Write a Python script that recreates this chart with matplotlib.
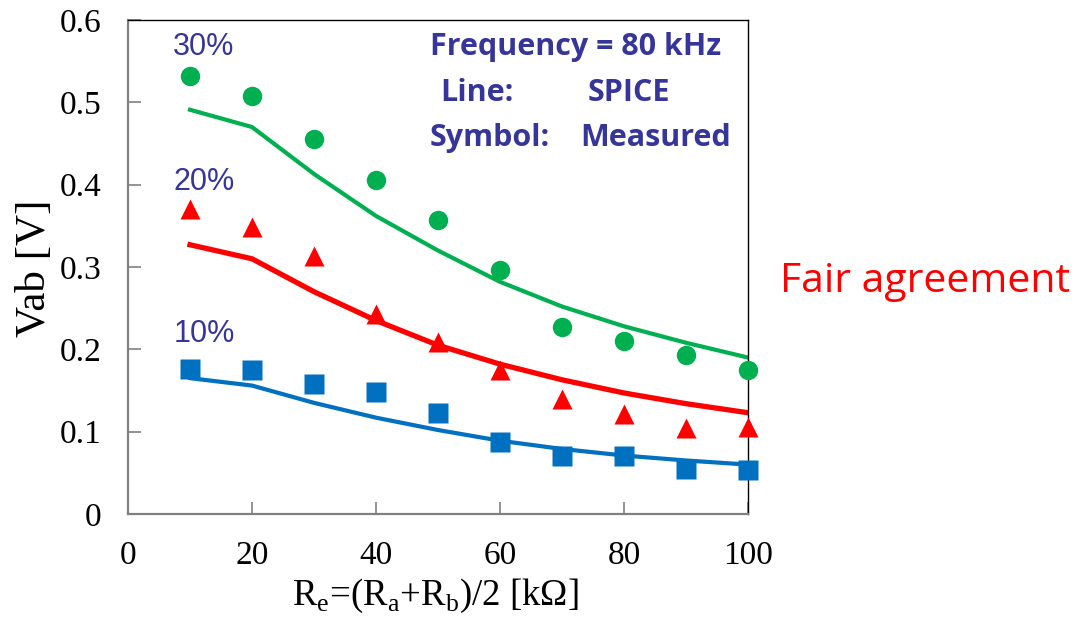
import matplotlib
matplotlib.use("Agg")
import matplotlib.pyplot as plt

# data
re_k = [10, 20, 30, 40, 50, 60, 70, 80, 90, 100]

meas30 = [0.532, 0.508, 0.456, 0.406, 0.357, 0.296, 0.227, 0.210, 0.193, 0.175]
meas20 = [0.370, 0.348, 0.313, 0.243, 0.209, 0.175, 0.140, 0.122, 0.105, 0.106]
meas10 = [0.176, 0.175, 0.158, 0.148, 0.123, 0.088, 0.071, 0.071, 0.055, 0.054]

spice30 = [0.491, 0.470, 0.413, 0.362, 0.320, 0.282, 0.252, 0.228, 0.208, 0.190]
spice20 = [0.327, 0.310, 0.270, 0.235, 0.205, 0.182, 0.163, 0.147, 0.134, 0.123]
spice10 = [0.165, 0.156, 0.135, 0.117, 0.102, 0.089, 0.079, 0.071, 0.065, 0.060]

xticks = [0, 20, 40, 60, 80, 100]
yticks = [0, 0.1, 0.2, 0.3, 0.4, 0.5, 0.6]
ytick_labels = ["0", "0.1", "0.2", "0.3", "0.4", "0.5", "0.6"]

GREEN = "#00B050"
RED = "#FF0000"
BLUE = "#0070C0"
NAVY = "#35359A"

plt.rcParams["mathtext.fontset"] = "custom"
plt.rcParams["mathtext.rm"] = "Liberation Serif"
serif = "Liberation Serif"
sans = ["Open Sans", "DejaVu Sans"]

W, H = 1079, 617
fig = plt.figure(figsize=(W / 100, H / 100), dpi=100)
fig.subplots_adjust(left=128 / W, right=748 / W, bottom=1 - 514 / H, top=1 - 20 / H)
ax = fig.add_subplot(111)

ax.plot(re_k, spice30, color=GREEN, lw=3.0, zorder=2)
ax.plot(re_k, spice20, color=RED, lw=3.8, zorder=2)
ax.plot(re_k, spice10, color=BLUE, lw=3.0, zorder=2)
ax.plot(re_k, meas30, "o", color=GREEN, ms=14, mec="none", zorder=3, clip_on=False)
ax.plot(re_k, meas20, "^", color=RED, ms=15, mec="none", zorder=3, clip_on=False)
ax.plot(re_k, meas10, "s", color=BLUE, ms=14, mec="none", zorder=3, clip_on=False)

ax.set_xlim(0, 100)
ax.set_ylim(0, 0.6)
ax.set_xticks(xticks)
ax.set_xticklabels([str(t) for t in xticks], fontfamily=serif, fontsize=24)
ax.set_yticks(yticks)
ax.set_yticklabels(ytick_labels, fontfamily=serif, fontsize=24)
ax.tick_params(direction="in", length=9, width=1.2, color="#808080")
ax.tick_params(axis="y", pad=19)
ax.tick_params(axis="x", pad=19)

for s in ["left", "bottom"]:
    ax.spines[s].set_color("#808080")
    ax.spines[s].set_linewidth(1.6)
for s in ["top", "right"]:
    ax.spines[s].set_color("black")
    ax.spines[s].set_linewidth(1.0)

# axis titles placed by pixel position
fig.text(35 / W, 1 - 268 / H, "Vab [V]", family=serif, fontsize=31,
         rotation=90, ha="center", va="center")
fig.text(435 / W, 1 - 605 / H,
         r"R$_\mathregular{e}$=(R$_\mathregular{a}$+R$_\mathregular{b}$)/2 [k$\Omega$]",
         family=serif, fontsize=26.5, ha="center", va="baseline")

# percentage labels
for lbl, y in [("30%", 47), ("20%", 182), ("10%", 334)]:
    fig.text(204 / W, 1 - y / H, lbl, color=NAVY, fontsize=22,
             family="Liberation Sans", ha="center", va="center")

# info box text
fig.text(430 / W, 1 - 47 / H, "Frequency = 80 kHz", color=NAVY, fontsize=22,
         family=sans, weight="bold", va="center")
fig.text(440 / W, 1 - 93 / H, "Line:", color=NAVY, fontsize=22,
         family=sans, weight="bold", va="center")
fig.text(588 / W, 1 - 93 / H, "SPICE", color=NAVY, fontsize=22,
         family=sans, weight="bold", va="center")
fig.text(430 / W, 1 - 138 / H, "Symbol:", color=NAVY, fontsize=22,
         family=sans, weight="bold", va="center")
fig.text(580 / W, 1 - 138 / H, "Measured", color=NAVY, fontsize=22,
         family=sans, weight="bold", va="center")

fig.text(780 / W, 1 - 282 / H, "Fair agreement", color=RED, fontsize=29.5,
         family=sans, va="center")

fig.savefig("out.png", dpi=100)
